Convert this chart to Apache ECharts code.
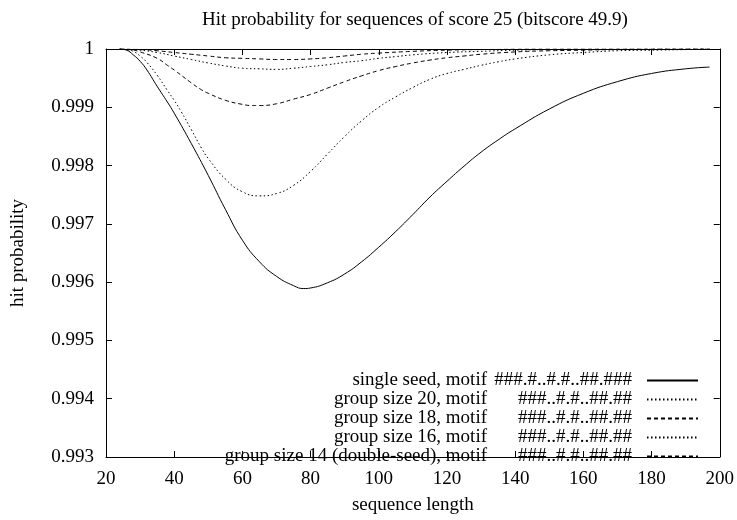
<!DOCTYPE html>
<html>
<head>
<meta charset="utf-8">
<script src="https://cdn.jsdelivr.net/npm/echarts@6/dist/echarts.min.js"></script>
<style>html,body{margin:0;padding:0;background:#fff;}#chart{width:737px;height:520px;}</style>
</head>
<body>
<div id="chart"></div>
<script>
// ---- data ----
const titleText = 'Hit probability for sequences of score 25 (bitscore 49.9)';
const xName = 'sequence length';
const yName = 'hit probability';
const seriesNames = [
  'single seed, motif',
  'group size 20, motif',
  'group size 18, motif',
  'group size 16, motif',
  'group size 14 (double-seed), motif'
];
const motifs = [
  '###.#..#.#..##.###',
  '###..#.#..##.##',
  '###..#.#..##.##',
  '###..#.#..##.##',
  '###..#.#..##.##'
];
const xSingle = [24, 26, 28, 30, 32, 35, 38, 40, 45, 50, 55, 60, 65, 70, 75, 78, 80, 85, 90, 95, 100, 105, 110, 115, 120, 125, 130, 135, 140, 150, 160, 170, 180, 190, 197];
const ySingle = [1, 0.99998, 0.99990, 0.99979, 0.99964, 0.99936, 0.99909, 0.99890, 0.99838, 0.99783, 0.99725, 0.99672, 0.99635, 0.99610, 0.99594, 0.99589, 0.99590, 0.99599, 0.99614, 0.99635, 0.99660, 0.99687, 0.99716, 0.99746, 0.99773, 0.99799, 0.99823, 0.99844, 0.99863, 0.99897, 0.99924, 0.99944, 0.99958, 0.99966, 0.99969];
const xG20 = [24, 26, 28, 30, 32, 35, 38, 40, 42, 45, 48, 50, 55, 60, 65, 70, 75, 80, 85, 90, 95, 100, 105, 110, 115, 120, 125, 130, 135, 140, 150, 160, 170, 180, 190, 197];
const yG20 = [1, 0.99999, 0.99996, 0.99988, 0.99977, 0.99955, 0.99929, 0.99912, 0.99893, 0.99862, 0.99830, 0.99812, 0.99777, 0.99755, 0.99748, 0.99752, 0.99766, 0.99790, 0.99820, 0.99850, 0.99877, 0.99900, 0.99918, 0.99934, 0.99948, 0.99958, 0.99965, 0.99972, 0.99978, 0.99983, 0.99990, 0.99994, 0.99997, 0.99998, 0.99999, 1];
const xG18 = [24, 28, 30, 35, 38, 40, 45, 48, 50, 55, 60, 63, 65, 70, 75, 80, 85, 90, 95, 100, 105, 110, 115, 120, 125, 130, 140, 150, 160, 170, 197];
const yG18 = [1, 0.99998, 0.99995, 0.99984, 0.99972, 0.99964, 0.99942, 0.99930, 0.99924, 0.99912, 0.99905, 0.99903, 0.99903, 0.99906, 0.99914, 0.99922, 0.99933, 0.99944, 0.99954, 0.99963, 0.99970, 0.99976, 0.99981, 0.99985, 0.99988, 0.99991, 0.99995, 0.99997, 0.99998, 0.99999, 1];
const xG16 = [24, 30, 35, 40, 45, 50, 55, 60, 65, 70, 75, 80, 85, 90, 95, 100, 105, 110, 120, 130, 140, 150, 197];
const yG16 = [1, 0.99998, 0.99994, 0.99988, 0.99982, 0.99976, 0.99971, 0.99967, 0.99966, 0.99965, 0.99967, 0.99970, 0.99973, 0.99977, 0.99980, 0.99984, 0.99987, 0.99990, 0.99994, 0.99996, 0.99998, 0.99999, 1];
const xG14 = [24, 30, 35, 40, 45, 50, 55, 60, 65, 70, 75, 80, 85, 90, 95, 100, 110, 120, 130, 150, 197];
const yG14 = [1, 0.99999, 0.99997, 0.99994, 0.99991, 0.99988, 0.99985, 0.99984, 0.99983, 0.99982, 0.99982, 0.99983, 0.99985, 0.99988, 0.99991, 0.99993, 0.99996, 0.99998, 0.99999, 1, 1];
const xTicks = { min: 20, max: 200, interval: 20 };
const yTicks = { min: 0.993, max: 1, interval: 0.001 };

// ---- chart ----
const FONT = 'Liberation Serif';
const FS = 19;
const zip = (xs, ys) => xs.map((x, i) => [x, ys[i]]);
const seriesX = [xSingle, xG20, xG18, xG16, xG14];
const seriesY = [ySingle, yG20, yG18, yG16, yG14];
const lineTypes = ['solid', [1.5, 2.5], [4, 3], [1.5, 2.5], [4, 3]];

const chart = echarts.init(document.getElementById('chart'), null, { renderer: 'canvas' });

const axisCommon = {
  axisLine: { show: true, lineStyle: { color: '#000', width: 1 } },
  axisTick: { show: true, inside: true, length: 6, lineStyle: { color: '#000' } },
  splitLine: { show: false }
};
const txt = { fontFamily: FONT, fontSize: FS, color: '#000' };

chart.setOption({
  animation: false,
  backgroundColor: '#fff',
  title: {
    text: titleText,
    left: 415, top: 11, textAlign: 'center', padding: 0,
    textStyle: Object.assign({ fontWeight: 'normal' }, txt)
  },
  grid: { left: 106, right: 15, top: 49, bottom: 56, show: false },
  xAxis: [
    Object.assign({
      type: 'value', min: xTicks.min, max: xTicks.max, interval: xTicks.interval,
      name: xName, nameLocation: 'middle', nameGap: 39,
      nameTextStyle: txt,
      axisLabel: Object.assign({ margin: 13 }, txt)
    }, axisCommon),
    Object.assign({
      type: 'value', position: 'top', min: xTicks.min, max: xTicks.max, interval: xTicks.interval,
      axisLabel: { show: false }
    }, axisCommon)
  ],
  yAxis: [
    Object.assign({
      type: 'value', min: yTicks.min, max: yTicks.max, interval: yTicks.interval,
      name: yName, nameLocation: 'middle', nameGap: 78,
      nameTextStyle: txt,
      axisLabel: Object.assign({ margin: 12, formatter: v => String(parseFloat(v.toFixed(3))) }, txt)
    }, axisCommon),
    Object.assign({
      type: 'value', position: 'right', min: yTicks.min, max: yTicks.max, interval: yTicks.interval,
      axisLabel: { show: false }
    }, axisCommon)
  ],
  legend: {
    orient: 'vertical', right: 38, top: 371, padding: 0,
    align: 'right', itemWidth: 51, itemHeight: 10, itemGap: 0,
    selectedMode: false,
    itemStyle: { opacity: 0, borderWidth: 0 },
    data: seriesNames,
    formatter: name => {
      const i = seriesNames.indexOf(name);
      return '{a|' + name + '}{b|' + motifs[i] + '}';
    },
    textStyle: Object.assign({
      lineHeight: 18.5,
      rich: {
        a: Object.assign({ width: 262, align: 'right', lineHeight: 18.5 }, txt),
        b: Object.assign({ width: 145, align: 'right', lineHeight: 18.5, padding: [0, 10, 0, 0] }, txt)
      }
    }, txt)
  },
  series: seriesNames.map((n, i) => ({
    name: n, type: 'line', xAxisIndex: 0, yAxisIndex: 0,
    data: zip(seriesX[i], seriesY[i]),
    showSymbol: false, symbol: 'none',
    smooth: 0.5,
    color: '#000',
    lineStyle: { color: '#000', width: 1, type: lineTypes[i] }
  }))
});
</script>
</body>
</html>
